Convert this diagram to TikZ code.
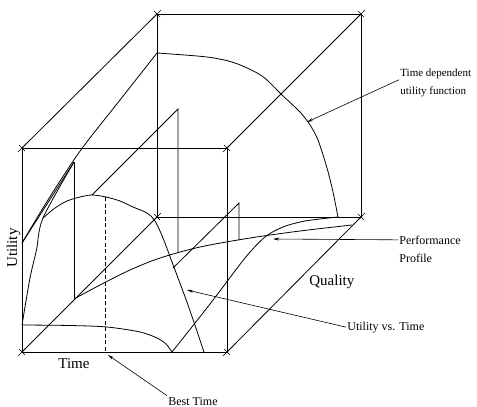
\documentclass[tikz,border=0pt]{standalone}
\usepackage{fontspec}
\setmainfont{Liberation Serif}
\usetikzlibrary{positioning,arrows.meta}

\begin{document}
\begin{tikzpicture}[x=1pt,y=-1pt,line width=0.8pt,
		cornermark/.style={line width=0.6pt},
		lbl/.style={font=\fontsize{12}{14}\selectfont,inner sep=1pt},
		toplbl/.style={font=\fontsize{11}{13}\selectfont,inner sep=1pt},
		axislbl/.style={font=\fontsize{15}{18}\selectfont,inner sep=1pt},
		pointer/.style={-{Stealth[length=6pt,width=3pt]},line width=0.6pt}]
		\useasboundingbox (0,0) rectangle (477,407);

		% cube corners
		\coordinate (FBL) at (22,352);
		\coordinate (FBR) at (227,352);
		\coordinate (FTL) at (22,148);
		\coordinate (FTR) at (227,148);
		\coordinate (BBL) at (157,217);
		\coordinate (BBR) at (361,217);
		\coordinate (BTL) at (157,14);
		\coordinate (BTR) at (361,14);

		\draw (FBL) -- (FBR) -- (FTR) -- (FTL) -- cycle;
		\draw (BBL) -- (BBR) -- (BTR) -- (BTL) -- cycle;
		\draw (FBL) -- (BBL);
		\draw (FBR) -- (BBR);
		\draw (FTL) -- (BTL);
		\draw (FTR) -- (BTR);
		\foreach \c in {FBL,FBR,FTL,FTR,BBL,BBR,BTL,BTR}{
			\draw[cornermark] ([shift={(-4,4)}]\c) -- ([shift={(4,-4)}]\c);
			\draw[cornermark] ([shift={(-3,-3)}]\c) -- ([shift={(3,3)}]\c);
		}

		% utility surface
		\draw plot[smooth] coordinates {(157,53) (207,57) (235,63) (262,76) (282,95) (300,112) (310,125) (318,140) (327,168) (333,192) (338,217)};
		\draw plot[smooth] coordinates {(22,243) (43,208) (60,181) (83,147) (120,100) (157,53)};
		\draw plot[smooth] coordinates {(22,325) (70,325.5) (107,327) (140,332) (157,338) (166,344) (172,352)};
		\draw (22,243) -- (74,162);

		% performance profile and zero line
		\draw plot[smooth] coordinates {(74,299) (100,285) (130,270) (160,258) (200,247) (250,238) (300,231) (352,225)};
		\draw plot[smooth] coordinates {(172,352) (210,304) (245,258) (265,237) (283,227) (305,221) (338,217)};

		% utility vs. time
		\draw plot[smooth] coordinates {(22,325) (30,278) (36.5,250) (43,218) (74,162)};
		\draw plot[smooth] coordinates {(43,218) (55,208) (67,201) (80,197) (92,195) (106,197) (120,201) (133,207) (147,213) (155,221) (163,238) (172,262) (188,305) (204,352)};

		% projections
		\draw (74,162) -- (74,299);
		\draw (92,195) -- (178,109) -- (178,253);
		\draw (173,268) -- (239,203) -- (239,240);
		\draw[dash pattern=on 4pt off 2.5pt] (105.5,197) -- (105.5,352);

		% labels
		\node[toplbl,anchor=base west] (tdA) at (399,76) {Time dependent};
		\node[toplbl,anchor=base west] (tdB) at (399,94) {utility function};
		\node[lbl,anchor=base west] (ppA) at (398,244) {Performance};
		\node[lbl,anchor=base west] (ppB) at (398,262) {Profile};
		\node[lbl,anchor=base west] (uvt) at (346,330) {Utility vs. Time};
		\node[lbl,anchor=base west] (bt) at (167,405) {Best Time};
		\node[axislbl,anchor=base west] (tm) at (57,368) {Time};
		\node[axislbl,anchor=base west] (ql) at (308,285) {Quality};
		\node[axislbl,rotate=90,anchor=base] (ut) at (17,248) {Utility};

		\coordinate (tdTip) at (307,122);
		\coordinate (ppTip) at (273,239);
		\coordinate (uvtTip) at (187,290);
		\coordinate (btTip) at (108,355);

		\draw[pointer] (tdA.south west) -- (tdTip);
		\draw[pointer] (ppA.west) -- (ppTip);
		\draw[pointer] (uvt.west) -- (uvtTip);
		\draw[pointer] (bt.north west) -- (btTip);
	\end{tikzpicture}
\end{document}
